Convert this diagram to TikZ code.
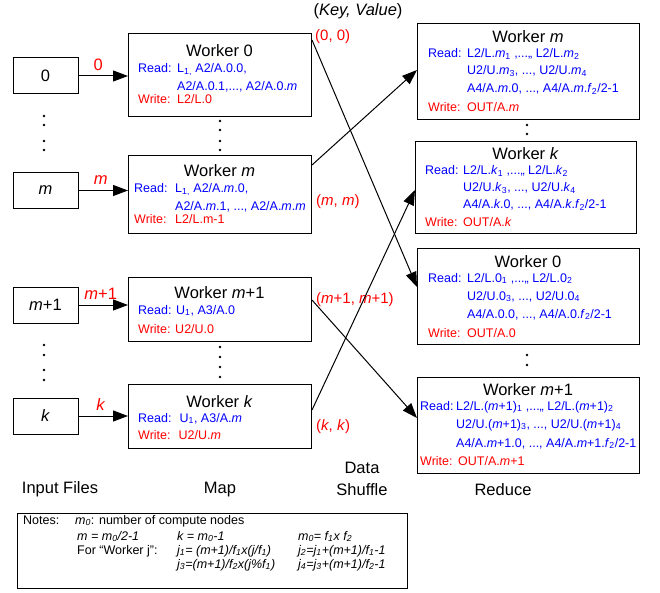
\documentclass[tikz,border=0pt]{standalone}
\usepackage{fontspec}
\setmainfont{Liberation Sans}
\usetikzlibrary{arrows.meta}
\newcommand{\sbs}[1]{\textsubscript{#1}}

\begin{document}
\begin{tikzpicture}[x=1pt, y=-1pt,
	filebox/.style={draw, line width=1pt, minimum width=65pt, minimum height=36pt, inner sep=0pt, font=\fontsize{16.5}{18}\selectfont},
	workbox/.style={draw, line width=1pt, anchor=north west, inner sep=0pt},
	wtitle/.style={anchor=base, inner sep=0pt, font=\fontsize{16.5}{18}\selectfont},
	rd/.style={anchor=base west, inner sep=0pt, text=blue, font=\fontsize{12.5}{14}\selectfont},
	wr/.style={rd, text=red},
	keylab/.style={anchor=base west, inner sep=0pt, text=red, font=\fontsize{15}{17}\selectfont},
	idlab/.style={inner sep=0pt, text=red, font=\fontsize{16.5}{18}\selectfont},
	stage/.style={anchor=base, inner sep=0pt, font=\fontsize{16.5}{18}\selectfont},
	note/.style={anchor=base west, inner sep=0pt, font=\fontsize{12.5}{14}\selectfont},
	feed/.style={-{Triangle[length=15pt,width=11pt]}, line width=1pt}]

	\useasboundingbox (0,0) rectangle (660,593);

	% input files
	\node[filebox] (in0)  at (45.5,76)   {0};
	\node[filebox] (inm)  at (45.5,190.5) {\textit{m}};
	\node[filebox] (inm1) at (45.5,305)  {\textit{m}+1};
	\node[filebox] (ink)  at (45.5,416)  {\textit{k}};

	\foreach \y in {116,125,141,150,345,355,370,380}
		\fill (44,\y) circle (1.4pt);

	% map workers
	\node[workbox, minimum width=183pt, minimum height=83pt] (map0)  at (128,33)  {};
	\node[workbox, minimum width=183pt, minimum height=78pt] (mapm)  at (128,155) {};
	\node[workbox, minimum width=183pt, minimum height=64pt] (mapm1) at (128,277) {};
	\node[workbox, minimum width=183pt, minimum height=64pt] (mapk)  at (128,384) {};

	\foreach \y in {121,130,141,150,347,357,367,377}
		\fill (220,\y) circle (1.4pt);

	\draw[feed] (in0)  -- node[idlab, pos=0.4, above=5pt] (l0)  {0} (in0 -| map0.west);
	\draw[feed] (inm)  -- node[idlab, pos=0.45, above=5pt] (lm)  {\textit{m}} (inm -| mapm.west);
	\draw[feed] (inm1) -- node[idlab, pos=0.45, above=5pt] (lm1) {\textit{m}+1} (inm1 -| mapm1.west);
	\draw[feed] (ink)  -- node[idlab, pos=0.45, above=5pt] (lk)  {\textit{k}} (ink -| mapk.west);

	\node[wtitle] (t-map0) at (219.5,57) {Worker 0};
	\node[rd] (r-map0)  at (138,73)  {Read:};
	\node[rd] (r-map0a) at (177,73)  {L\sbs{1,} A2/A.0.0,};
	\node[rd] (r-map0b) at (177,91)  {A2/A.0.1,..., A2/A.0.\textit{m}};
	\node[wr] (w-map0)  at (138,104) {Write:};
	\node[wr] (w-map0a) at (177,104) {L2/L.0};

	\node[wtitle] (t-mapm) at (219.5,177) {Worker \textit{m}};
	\node[rd] (r-mapm)  at (134,193) {Read:};
	\node[rd] (r-mapma) at (175,193) {L\sbs{1,} A2/A.\textit{m}.0,};
	\node[rd] (r-mapmb) at (175,211) {A2/A.\textit{m}.1, ..., A2/A.\textit{m}.\textit{m}};
	\node[wr] (w-mapm)  at (134,224) {Write:};
	\node[wr] (w-mapma) at (175,224) {L2/L.m-1};

	\node[wtitle] (t-mapm1) at (219.5,298) {Worker \textit{m}+1};
	\node[rd] (r-mapm1) at (138,314) {Read: U\sbs{1}, A3/A.0};
	\node[wr] (w-mapm1) at (138,333) {Write: U2/U.0};

	\node[wtitle] (t-mapk) at (219.5,407) {Worker \textit{k}};
	\node[rd] (r-mapk) at (138,422) {Read:~ U\sbs{1}, A3/A.\textit{m}};
	\node[wr] (w-mapk) at (138,439) {Write:~ U2/U.\textit{m}};

	% reduce workers
	\node[workbox, minimum width=222pt, minimum height=96pt] (redm)  at (417,23)  {};
	\node[workbox, minimum width=221pt, minimum height=92pt] (redk)  at (415,141) {};
	\node[workbox, minimum width=222pt, minimum height=96pt] (red0)  at (417,248) {};
	\node[workbox, minimum width=222pt, minimum height=96pt] (redm1) at (417,377) {};

	\foreach \y in {125,134,355,365}
		\fill (527,\y) circle (1.4pt);

	\node[wtitle] (t-redm) at (528,43) {Worker \textit{m}};
	\node[rd] (r-redm)  at (428,58) {Read:};
	\node[rd] (r-redma) at (467,58) {L2/L.\textit{m}\sbs{1} ,...,, L2/L.\textit{m}\sbs{2}};
	\node[rd] (r-redmb) at (467,75) {U2/U.\textit{m}\sbs{3}, ..., U2/U.\textit{m}\sbs{4}};
	\node[rd] (r-redmc) at (467,93) {A4/A.\textit{m}.0, ..., A4/A.\textit{m}.\textit{f}\sbs{2}/2-1};
	\node[wr] (w-redm)  at (428,112) {Write:};
	\node[wr] (w-redma) at (467,112) {OUT/A.\textit{m}};

	\node[wtitle] (t-redk) at (525.5,160) {Worker \textit{k}};
	\node[rd] (r-redk)  at (425,175) {Read:};
	\node[rd] (r-redka) at (463,175) {L2/L.\textit{k}\sbs{1} ,...,, L2/L.\textit{k}\sbs{2}};
	\node[rd] (r-redkb) at (463,192) {U2/U.\textit{k}\sbs{3}, ..., U2/U.\textit{k}\sbs{4}};
	\node[rd] (r-redkc) at (463,209) {A4/A.\textit{k}.0, ..., A4/A.\textit{k}.\textit{f}\sbs{2}/2-1};
	\node[wr] (w-redk)  at (425,227) {Write:};
	\node[wr] (w-redka) at (463,227) {OUT/A.\textit{k}};

	\node[wtitle] (t-red0) at (528,267) {Worker 0};
	\node[rd] (r-red0)  at (428,282) {Read:};
	\node[rd] (r-red0a) at (467,282) {L2/L.0\sbs{1} ,...,, L2/L.0\sbs{2}};
	\node[rd] (r-red0b) at (467,300) {U2/U.0\sbs{3}, ..., U2/U.0\sbs{4}};
	\node[rd] (r-red0c) at (467,318) {A4/A.0.0, ..., A4/A.0.\textit{f}\sbs{2}/2-1};
	\node[wr] (w-red0)  at (428,337) {Write:};
	\node[wr] (w-red0a) at (467,337) {OUT/A.0};

	\node[wtitle] (t-redm1) at (528,395) {Worker \textit{m}+1};
	\node[rd] (r-redm1)  at (420,410) {Read:};
	\node[rd] (r-redm1a) at (456,410) {L2/L.(\textit{m}+1)\sbs{1} ,...,, L2/L.(\textit{m}+1)\sbs{2}};
	\node[rd] (r-redm1b) at (456,428) {U2/U.(\textit{m}+1)\sbs{3}, ..., U2/U.(\textit{m}+1)\sbs{4}};
	\node[rd] (r-redm1c) at (456,447) {A4/A.\textit{m}+1.0, ..., A4/A.\textit{m}+1.\textit{f}\sbs{2}/2-1};
	\node[wr] (w-redm1)  at (420,465) {Write:};
	\node[wr] (w-redm1a) at (458,465) {OUT/A.\textit{m}+1};

	% data shuffle
	\node[stage] (kv) at (358,16) {(\textit{Key, Value})};
	\node[keylab] (kv0)  at (315,41)  {(0, 0)};
	\node[keylab] (kvm)  at (316,206) {(\textit{m}, \textit{m})};
	\node[keylab] (kvm1) at (316,303) {(\textit{m}+1, \textit{m}+1)};
	\node[keylab] (kvk)  at (316,430) {(\textit{k}, \textit{k})};

	\draw[feed] ([yshift=-7pt]map0.north east)   -- ([yshift=-39pt]red0.north west);
	\draw[feed] ([yshift=-10pt]mapm.north east)  -- ([yshift=-47pt]redm.north west);
	\draw[feed] ([yshift=-23pt]mapm1.north east) -- ([yshift=-41pt]redm1.north west);
	\draw[feed] ([yshift=-26pt]mapk.north east)  -- ([yshift=-49pt]redk.north west);

	% stage names
	\node[stage] (s-in)  at (60,493)  {Input Files};
	\node[stage] (s-map) at (220,493) {Map};
	\node[stage] (s-sh1) at (362,473) {Data};
	\node[stage] (s-sh2) at (362,495) {Shuffle};
	\node[stage] (s-red) at (503,495) {Reduce};

	% notes
	\node[draw, line width=1pt, anchor=north west, minimum width=390pt, minimum height=75pt, inner sep=0pt] (notes) at (17,513) {};
	\node[note] (n0) at (23,524)  {Notes:};
	\node[note] (n1) at (75,524)  {\textit{m\sbs{0}}: number of compute nodes};
	\node[note] (n2) at (77,540)  {\textit{m = m\sbs{0}/2-1}};
	\node[note] (n3) at (177,540) {\textit{k = m\sbs{0}-1}};
	\node[note] (n4) at (298,540) {\textit{m\sbs{0}= f\sbs{1}x f\sbs{2}}};
	\node[note] (n5) at (77,554)  {For ``Worker j'':};
	\node[note] (n6) at (177,554) {\textit{j\sbs{1}= (m+1)/f\sbs{1}x(j/f\sbs{1})}};
	\node[note] (n7) at (298,554) {\textit{j\sbs{2}=j\sbs{1}+(m+1)/f\sbs{1}-1}};
	\node[note] (n8) at (177,568) {\textit{j\sbs{3}=(m+1)/f\sbs{2}x(j\%f\sbs{1})}};
	\node[note] (n9) at (298,568) {\textit{j\sbs{4}=j\sbs{3}+(m+1)/f\sbs{2}-1}};
\end{tikzpicture}
\end{document}
